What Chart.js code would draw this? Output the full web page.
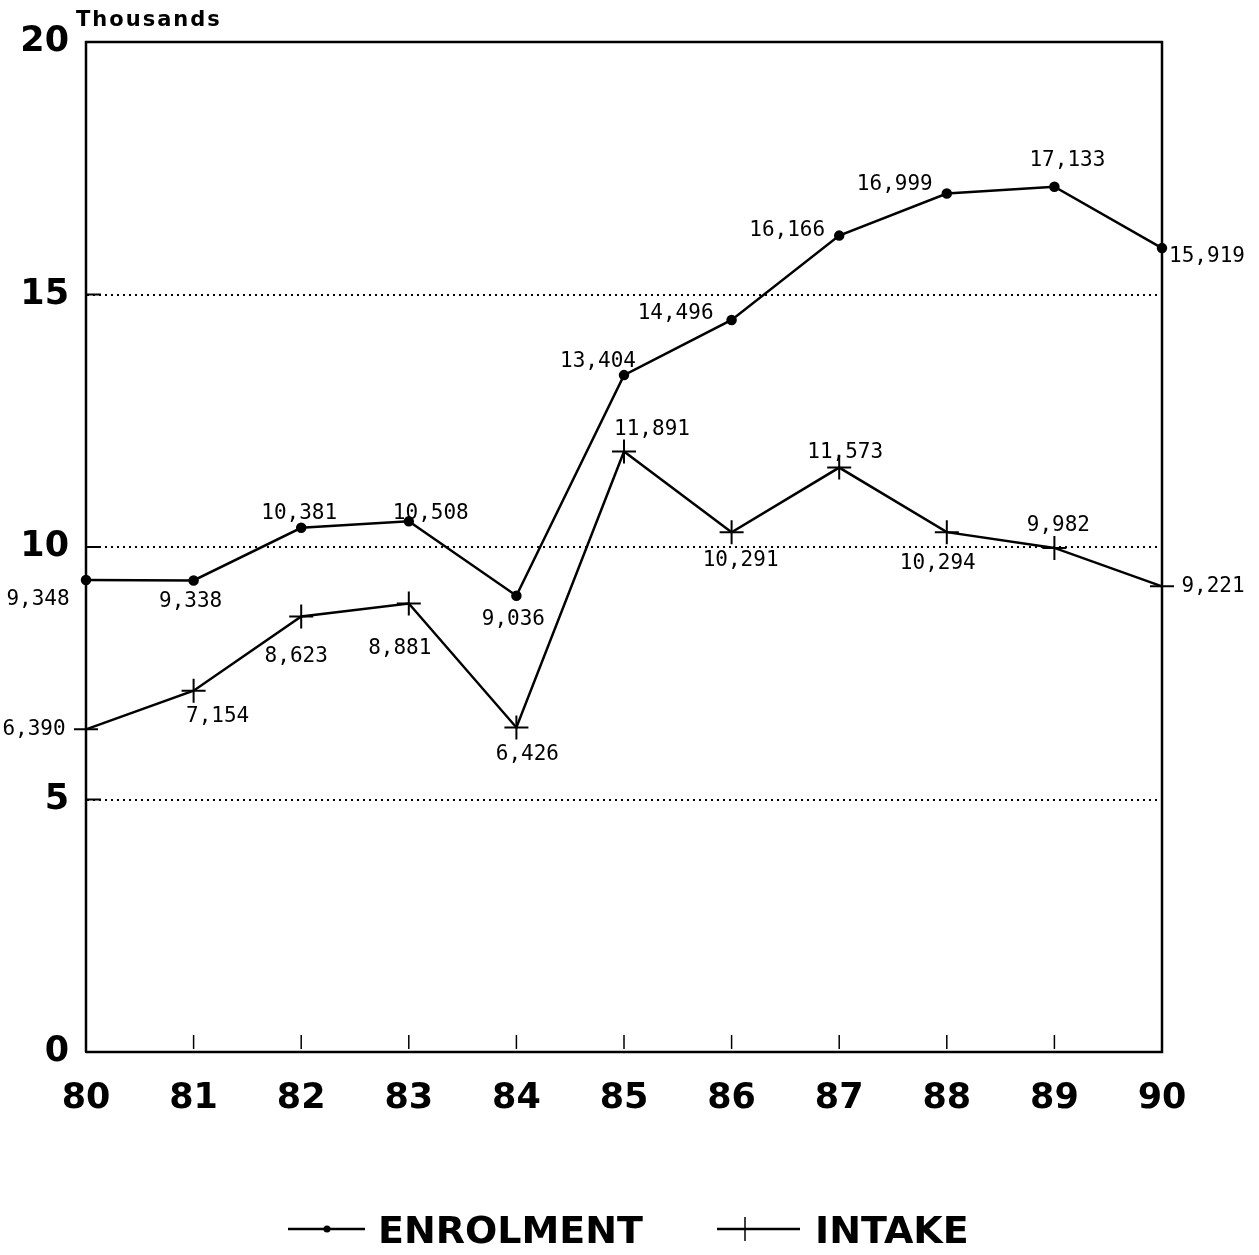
<!DOCTYPE html>
<html>
<head>
<meta charset="utf-8">
<title>Enrolment and Intake</title>
<script src="https://cdn.jsdelivr.net/npm/chart.js@4.4.1/dist/chart.umd.min.js"></script>
<style>
  html, body { margin: 0; padding: 0; background: #fff; }
  #wrap { width: 1259px; height: 1255px; position: relative; }
</style>
</head>
<body>
<div id="wrap"><canvas id="enrolmentIntakeChart"></canvas></div>
<script>
// data (thousands shown on the axis, values in units)
const years = ['80', '81', '82', '83', '84', '85', '86', '87', '88', '89', '90'];
const enrolment = [9348, 9338, 10381, 10508, 9036, 13404, 14496, 16166, 16999, 17133, 15919];
const intake = [6390, 7154, 8623, 8881, 6426, 11891, 10291, 11573, 10294, 9982, 9221];
const yTicks = [0, 5, 10, 15, 20];

// where each value label sits relative to its point (dx, dy in px)
const enrolmentLabelPos = [
  [-48, 20], [-3, 21], [-2, -14], [22, -8], [-3, 24], [-26, -14],
  [-56, -6], [-52, -5], [-52, -9], [13, -26], [45, 8]
];
const intakeLabelPos = [
  [-52, 0], [24, 26], [-5, 40], [-9, 45], [11, 27], [28, -22],
  [9, 28], [6, -15], [-9, 31], [4, -22], [51, 0]
];

const bigFont = 'DejaVu Sans';
const monoFont = 'DejaVu Sans Mono';

// box, inner ticks, "Thousands", value labels and legend
const extrasPlugin = {
  id: 'extras',
  afterDatasetsDraw(chart) {
    const ctx = chart.ctx;
    const area = chart.chartArea;
    const xs = chart.scales.x;
    const ys = chart.scales.y;

    ctx.save();
    ctx.strokeStyle = '#000';
    ctx.lineWidth = 2.5;

    // frame (left and bottom again so they match the top/right weight)
    ctx.beginPath();
    ctx.moveTo(area.left, area.bottom);
    ctx.lineTo(area.left, area.top);
    ctx.lineTo(area.right, area.top);
    ctx.lineTo(area.right, area.bottom);
    ctx.lineTo(area.left, area.bottom);
    ctx.stroke();

    // short ticks pointing inside
    ctx.lineWidth = 1.5;
    for (let i = 1; i < years.length - 1; i++) {
      const x = xs.getPixelForValue(i);
      ctx.beginPath();
      ctx.moveTo(x, area.bottom - 3);
      ctx.lineTo(x, area.bottom - 17);
      ctx.stroke();
    }
    ctx.lineWidth = 2;
    for (let v of yTicks) {
      if (v === 0 || v === 20) continue;
      const y = ys.getPixelForValue(v * 1000);
      ctx.beginPath();
      ctx.moveTo(area.left, y);
      ctx.lineTo(area.left + 15, y);
      ctx.stroke();
    }

    // axis unit
    ctx.fillStyle = '#000';
    ctx.font = 'bold 21px "' + bigFont + '"';
    ctx.letterSpacing = '2px';
    ctx.textAlign = 'left';
    ctx.textBaseline = 'middle';
    ctx.fillText('Thousands', 76, 21);
    ctx.letterSpacing = '0px';

    // value labels
    ctx.font = '21px "' + monoFont + '"';
    ctx.textAlign = 'center';
    const placements = [enrolmentLabelPos, intakeLabelPos];
    chart.data.datasets.forEach((ds, i) => {
      const meta = chart.getDatasetMeta(i);
      meta.data.forEach((pt, j) => {
        const off = placements[i][j];
        ctx.fillText(ds.data[j].toLocaleString('en-US'), pt.x + off[0], pt.y + off[1]);
      });
    });

    // legend
    const ly = 1229;
    ctx.lineWidth = 2.5;
    ctx.beginPath();
    ctx.moveTo(288, ly);
    ctx.lineTo(365, ly);
    ctx.stroke();
    ctx.beginPath();
    ctx.arc(327, ly, 3.5, 0, Math.PI * 2);
    ctx.fill();

    ctx.beginPath();
    ctx.moveTo(717, ly);
    ctx.lineTo(800, ly);
    ctx.stroke();
    ctx.lineWidth = 1.5;
    ctx.beginPath();
    ctx.moveTo(745, ly - 12);
    ctx.lineTo(745, ly + 12);
    ctx.stroke();

    ctx.font = 'bold 38px "' + bigFont + '"';
    ctx.textAlign = 'left';
    ctx.textBaseline = 'middle';
    ctx.fillText('ENROLMENT', 378, ly + 4);
    ctx.fillText('INTAKE', 815, ly + 4);
    ctx.restore();
  }
};

function createChart() {
  const ctx = document.getElementById('enrolmentIntakeChart').getContext('2d');
  new Chart(ctx, {
    type: 'line',
    data: {
      labels: years,
      datasets: [
        {
          label: 'ENROLMENT',
          data: enrolment,
          borderColor: '#000',
          borderWidth: 2.5,
          pointRadius: 4,
          pointBackgroundColor: '#000',
          pointBorderColor: '#000',
          tension: 0,
          clip: false
        },
        {
          label: 'INTAKE',
          data: intake,
          borderColor: '#000',
          borderWidth: 2.5,
          pointStyle: 'cross',
          pointRadius: 12,
          pointBorderWidth: 2,
          pointBorderColor: '#000',
          tension: 0,
          clip: false
        }
      ]
    },
    options: {
      responsive: true,
      maintainAspectRatio: false,
      animation: false,
      devicePixelRatio: 1,
      layout: { padding: { left: 0, right: 97, top: 42, bottom: 0 } },
      plugins: {
        legend: { display: false },
        tooltip: { enabled: false }
      },
      scales: {
        x: {
          type: 'category',
          offset: false,
          afterFit: (scale) => { scale.height = 203; },
          grid: { display: false, drawTicks: false },
          border: { display: true, color: '#000', width: 2 },
          ticks: {
            color: '#000',
            padding: 26,
            maxRotation: 0,
            autoSkip: false,
            font: { family: bigFont, size: 35, weight: 'bold' }
          }
        },
        y: {
          min: 0,
          max: 20000,
          afterFit: (scale) => { scale.width = 86; },
          afterBuildTicks: (scale) => {
            scale.ticks = yTicks.map(v => ({ value: v * 1000 }));
          },
          grid: {
            drawTicks: false,
            lineWidth: 2,
            color: (c) => (c.tick && (c.tick.value === 0 || c.tick.value === 20000)) ? 'rgba(0,0,0,0)' : '#000'
          },
          border: { display: true, color: '#000', width: 2, dash: [2, 4] },
          ticks: {
            color: '#000',
            padding: 17,
            callback: (v) => String(v / 1000),
            font: { family: bigFont, size: 35, weight: 'bold' }
          }
        }
      }
    },
    plugins: [extrasPlugin]
  });
}

createChart();
</script>
</body>
</html>
